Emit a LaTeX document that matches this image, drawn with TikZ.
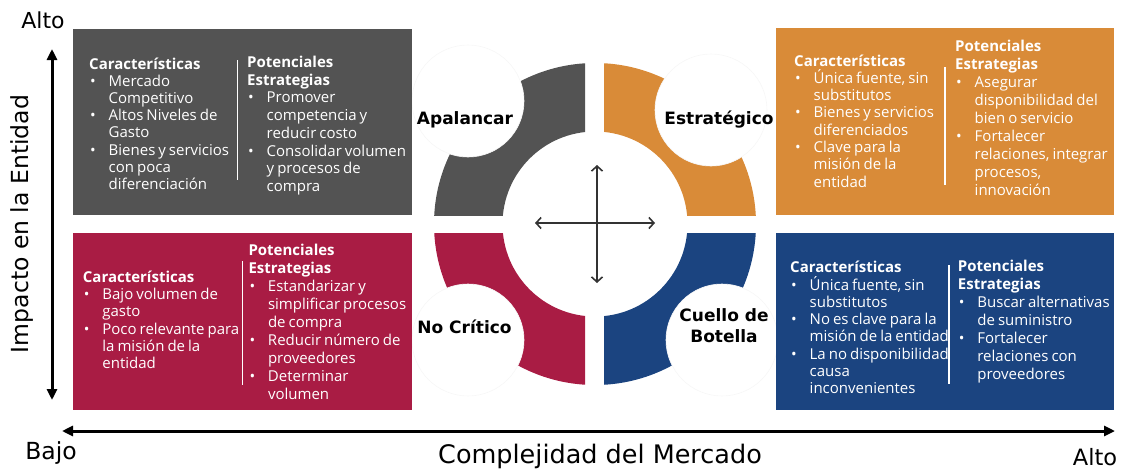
\documentclass[tikz,border=0pt]{standalone}
\usepackage{fontspec}
\setmainfont{Open Sans}
\newfontfamily\quadfont{DejaVu Sans}
\usepackage{tikz}
\usetikzlibrary{arrows.meta,positioning}
\definecolor{kGrey}{RGB}{83,83,83}
\definecolor{kRed}{RGB}{169,28,68}
\definecolor{kOrange}{RGB}{217,139,56}
\definecolor{kBlue}{RGB}{27,68,128}
\definecolor{kArrow}{RGB}{51,51,51}
\newcommand{\bul}{\makebox[19.5pt][l]{\hspace{1pt}•}}
\newcommand{\cnt}{\hspace*{19.5pt}}
% column of text: baselineskip, lines
\newcommand{\colbox}[2]{\begin{minipage}[t]{180pt}\fontsize{15}{#1}\selectfont\spaceskip=0.2em\raggedright #2\end{minipage}}

\begin{document}
\begin{tikzpicture}[x=1pt, y=-1pt,
  boxtxt/.style={text=white, inner sep=0pt, anchor=base west},
  divider/.style={draw=white, line width=1.2pt},
  bite/.style={circle, fill=white, draw=black!3, line width=0.6pt, minimum size=112pt, inner sep=0pt},
  qlabel/.style={font=\quadfont\bfseries\fontsize{17}{21}\selectfont, align=center, inner sep=0pt},
  axlabel/.style={font=\quadfont\fontsize{23.5}{28}\selectfont, inner sep=0pt},
  axarrow/.style={line width=3pt, {Triangle[length=11pt,width=10pt]}-{Triangle[length=11pt,width=10pt]}},
  crossarrow/.style={kArrow, line width=1.6pt, {Straight Barb[length=5pt,width=11pt]}-{Straight Barb[length=5pt,width=11pt]}}]
  \useasboundingbox (0,0) rectangle (1121,471);
  \coordinate (ctr) at (595,224);

  % Ring quadrants
  \begin{scope}
    \clip (0,0) rectangle (585,215);
    \fill[kGrey, even odd rule] (ctr) circle (161pt) (ctr) circle (92.5pt);
  \end{scope}
  \begin{scope}
    \clip (604,0) rectangle (1121,215);
    \fill[kOrange, even odd rule] (ctr) circle (161pt) (ctr) circle (92.5pt);
  \end{scope}
  \begin{scope}
    \clip (0,233) rectangle (585,471);
    \fill[kRed, even odd rule] (ctr) circle (161pt) (ctr) circle (92.5pt);
  \end{scope}
  \begin{scope}
    \clip (604,233) rectangle (1121,471);
    \fill[kBlue, even odd rule] (ctr) circle (161pt) (ctr) circle (92.5pt);
  \end{scope}
  \node[bite] (biteApal) at (468,101) {};
  \node[bite] (biteEstr) at (711,110) {};
  \node[bite] (biteNoCr) at (468,340) {};
  \node[bite] (biteCuel) at (722,340) {};
  \node[qlabel, anchor=base] (apal) at (465,124) {Apalancar};
  \node[qlabel, anchor=base] (estr) at (719,124) {Estratégico};
  \node[qlabel, anchor=base] (nocr) at (464.5,333) {No Crítico};
  \node[qlabel] (cuel) at (724,326) {Cuello de\\Botella};

  % Cross in the middle
  \coordinate (crossT) at (597,165);
  \coordinate (crossB) at (597,283);
  \coordinate (crossL) at (535,223);
  \coordinate (crossR) at (655,223);
  \draw[crossarrow] (crossB) -- (crossT);
  \draw[crossarrow] (crossL) -- (crossR);

  % Apalancar box
  \fill[kGrey] (73,29) rectangle (412,215);
  \node[boxtxt] (apalCar) at (89,69.5) {\colbox{17.1pt}{\textbf{Características}\\
    \bul Mercado\\ \cnt Competitivo\\ \bul Altos Niveles de\\ \cnt Gasto\\
    \bul Bienes y servicios\\ \cnt con poca\\ \cnt diferenciación}};
  \draw[divider] (237.5,60) -- (237.5,180);
  \node[boxtxt] (apalEst) at (247,67.5) {\colbox{17.7pt}{\textbf{Potenciales}\\ \textbf{Estrategias}\\
    \bul Promover\\ \cnt competencia y\\ \cnt reducir costo\\
    \bul Consolidar volumen\\ \cnt y procesos de\\ \cnt compra}};

  % Estrategico box
  \fill[kOrange] (776,28) rectangle (1114,215);
  \node[boxtxt] (estrCar) at (794,66) {\colbox{17.3pt}{\textbf{Características}\\
    \bul Única fuente, sin\\ \cnt substitutos\\ \bul Bienes y servicios\\ \cnt diferenciados\\
    \bul Clave para la\\ \cnt misión de la\\ \cnt entidad}};
  \draw[divider] (945,67) -- (945,185);
  \node[boxtxt] (estrEst) at (955,51) {\colbox{18.1pt}{\textbf{Potenciales}\\ \textbf{Estrategias}\\
    \bul Asegurar\\ \cnt disponibilidad del\\ \cnt bien o servicio\\
    \bul Fortalecer\\ \cnt relaciones, integrar\\ \cnt procesos,\\ \cnt innovación}};

  % No critico box
  \fill[kRed] (73,233) rectangle (412,410);
  \node[boxtxt] (nocrCar) at (82.7,282.7) {\colbox{17.1pt}{\textbf{Características}\\
    \bul Bajo volumen de\\ \cnt gasto\\ \bul Poco relevante para\\ \cnt la misión de la\\ \cnt entidad}};
  \draw[divider] (242.3,261) -- (242.3,385);
  \node[boxtxt] (nocrEst) at (248.3,255) {\colbox{18.1pt}{\textbf{Potenciales}\\ \textbf{Estrategias}\\
    \bul Estandarizar y\\ \cnt simplificar procesos\\ \cnt de compra\\
    \bul Reducir número de\\ \cnt proveedores\\ \bul Determinar\\ \cnt volumen}};

  % Cuello de botella box
  \fill[kBlue] (776,233) rectangle (1114,410);
  \node[boxtxt] (cuelCar) at (790,272.7) {\colbox{17.3pt}{\textbf{Características}\\
    \bul Única fuente, sin\\ \cnt substitutos\\ \bul No es clave para la\\ \cnt misión de la entidad\\
    \bul La no disponibilidad\\ \cnt causa\\ \cnt inconvenientes}};
  \draw[divider] (949,265) -- (949,384);
  \node[boxtxt] (cuelEst) at (957.7,271.7) {\colbox{18pt}{\textbf{Potenciales}\\ \textbf{Estrategias}\\
    \bul Buscar alternativas\\ \cnt de suministro\\
    \bul Fortalecer\\ \cnt relaciones con\\ \cnt proveedores}};

  % Axes
  \coordinate (yTop) at (52,49);
  \coordinate (yBot) at (52,400);
  \coordinate (xLeft) at (62,431);
  \coordinate (xRight) at (1115,431);
  \draw[axarrow] (yBot) -- (yTop);
  \draw[axarrow] (xLeft) -- (xRight);
  \node[axlabel, font=\quadfont\fontsize{22}{26}\selectfont, anchor=base] (yHigh) at (43,28) {Alto};
  \node[axlabel, rotate=90] (yName) at (22,224) {Impacto en la Entidad};
  \node[axlabel, anchor=base] (xLow) at (51,459) {Bajo};
  \node[axlabel, font=\quadfont\fontsize{25.5}{30}\selectfont, anchor=base] (xName) at (600,463) {Complejidad del Mercado};
  \node[axlabel, font=\quadfont\fontsize{22.5}{26}\selectfont] (xHigh) at (1095,457) {Alto};
\end{tikzpicture}
\end{document}
